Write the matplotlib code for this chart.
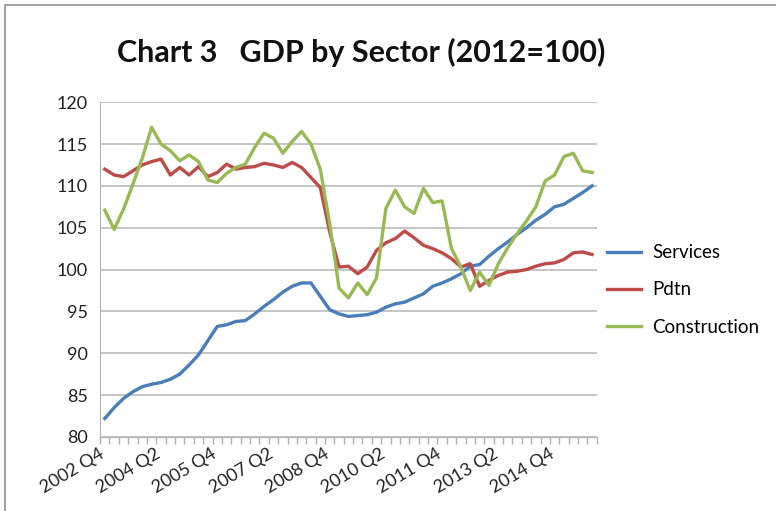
import matplotlib
matplotlib.use("Agg")
import matplotlib.pyplot as plt
import matplotlib.transforms as mtransforms
from matplotlib.patches import Rectangle

plt.rcParams['font.family'] = ['Lato', 'DejaVu Sans']

# Quarterly data, 2002 Q4 .. 2015 Q4 (2012=100)
quarters = [f"{y} Q{q}" for y in range(2002, 2016) for q in range(1, 5)][3:]
tick_labels = ["2002 Q4", "2004 Q2", "2005 Q4", "2007 Q2", "2008 Q4",
               "2010 Q2", "2011 Q4", "2013 Q2", "2014 Q4"]

services = [82.2, 83.5, 84.6, 85.4, 86.0, 86.3, 86.5, 86.9, 87.5, 88.6,
            89.8, 91.5, 93.2, 93.4, 93.8, 93.9, 94.7, 95.6, 96.4, 97.3,
            98.0, 98.4, 98.4, 96.8, 95.2, 94.7, 94.4, 94.5, 94.6, 94.9,
            95.5, 95.9, 96.1, 96.6, 97.1, 98.0, 98.4, 98.9, 99.5, 100.4,
            100.6, 101.6, 102.5, 103.3, 104.2, 105.0, 105.9, 106.6, 107.5, 107.8,
            108.5, 109.2, 110.0]

pdtn = [112.0, 111.3, 111.1, 111.8, 112.5, 112.9, 113.2, 111.3, 112.2, 111.3,
        112.3, 111.1, 111.6, 112.6, 112.0, 112.2, 112.3, 112.7, 112.5, 112.2,
        112.8, 112.2, 111.0, 109.8, 104.5, 100.3, 100.4, 99.5, 100.3, 102.3,
        103.2, 103.7, 104.6, 103.8, 102.9, 102.5, 102.0, 101.3, 100.3, 100.7,
        98.0, 98.7, 99.3, 99.7, 99.8, 100.0, 100.4, 100.7, 100.8, 101.2,
        102.0, 102.1, 101.8]

construction = [107.1, 104.8, 107.2, 110.2, 113.3, 117.0, 115.0, 114.2, 113.0, 113.7,
                112.9, 110.7, 110.4, 111.5, 112.2, 112.6, 114.6, 116.3, 115.7, 113.9,
                115.3, 116.5, 115.0, 112.0, 105.5, 97.8, 96.6, 98.4, 97.0, 99.0,
                107.3, 109.5, 107.5, 106.7, 109.7, 108.0, 108.2, 102.5, 100.3, 97.5,
                99.7, 98.1, 100.7, 102.6, 104.3, 105.8, 107.5, 110.6, 111.3, 113.5,
                113.9, 111.8, 111.6]

fig = plt.figure(figsize=(7.76, 5.11), dpi=100)
ax = fig.add_axes([0.129, 0.145, 0.640, 0.655])

x = [i + 0.5 for i in range(len(quarters))]
ax.plot(x, services, color='#4A7EBB', lw=2.4, label='Services', solid_joinstyle='round')
ax.plot(x, pdtn, color='#BE4B48', lw=2.4, label='Pdtn', solid_joinstyle='round')
ax.plot(x, construction, color='#98B954', lw=2.4, label='Construction', solid_joinstyle='round')

ax.set_xlim(0, len(quarters))
ax.set_ylim(80, 120)
ax.set_yticks(range(80, 121, 5))
ax.yaxis.grid(True, color='#C0C0C0', lw=1.3)
ax.set_axisbelow(True)
for s in ['top', 'right']:
    ax.spines[s].set_visible(False)
ax.spines['left'].set_color('#B0B0B0')
ax.spines['bottom'].set_color('#B0B0B0')
ax.tick_params(axis='y', length=0, pad=9, labelsize=13, labelcolor='#222222')

# category labels every 6 quarters, small tick marks between categories
ax.set_xticks([quarters.index(t) + 0.5 for t in tick_labels])
ax.set_xticklabels(tick_labels, rotation=31, ha='right', rotation_mode='anchor',
                   fontsize=13, color='#222222')
ax.tick_params(axis='x', length=0, pad=6)
shift = mtransforms.ScaledTranslation(-6 / 100, 0, fig.dpi_scale_trans)
for lbl in ax.get_xticklabels():
    lbl.set_transform(lbl.get_transform() + shift)
ax.set_xticks(range(len(quarters) + 1), minor=True)
ax.tick_params(axis='x', which='minor', length=5, color='#B0B0B0', width=1)

fig.text(0.465, 0.897, "Chart 3   GDP by Sector (2012=100)", ha='center', va='center',
         fontsize=22, fontweight='bold', color='#111111')

ax.legend(loc='center left', bbox_to_anchor=(0.782, 0.4325), bbox_transform=fig.transFigure,
          frameon=False, fontsize=13.5, handlelength=1.8, labelspacing=1.08,
          handletextpad=0.6, borderpad=0, borderaxespad=0)

fig.add_artist(Rectangle((5 / 776, -0.1), 1.2, 1 - 5 / 511 + 0.1, transform=fig.transFigure,
                         fill=False, edgecolor='#909090', lw=1.2))

fig.savefig('out.png', dpi=100)
